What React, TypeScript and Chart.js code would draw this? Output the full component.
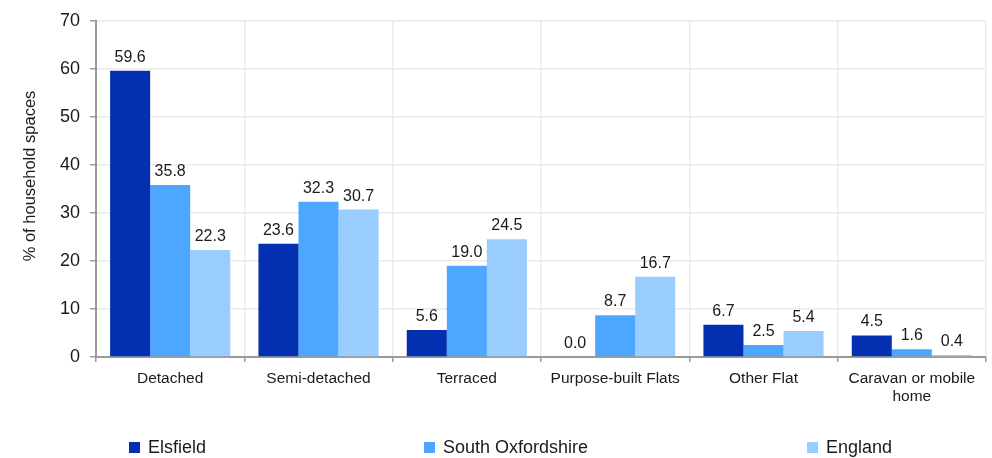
import React, { useEffect, useRef } from "react";
import { Chart, registerables } from "chart.js";

Chart.register(...registerables);

const categories: (string | string[])[] = [
  "Detached",
  "Semi-detached",
  "Terraced",
  "Purpose-built Flats",
  "Other Flat",
  ["Caravan or mobile", "home"],
];
const elsfield = [59.6, 23.6, 5.6, 0.0, 6.7, 4.5];
const southOxfordshire = [35.8, 32.3, 19.0, 8.7, 2.5, 1.6];
const england = [22.3, 30.7, 24.5, 16.7, 5.4, 0.4];
const yTicks = [0, 10, 20, 30, 40, 50, 60, 70];
const yTitle = "% of household spaces";

const FONT = "'Liberation Sans', Arial, Helvetica, sans-serif";
const TEXT = "#1a1a1a";

const valueLabels = {
  id: "valueLabels",
  afterDatasetsDraw(chart: any) {
    const ctx = chart.ctx;
    ctx.save();
    ctx.font = `16px ${FONT}`;
    ctx.fillStyle = TEXT;
    ctx.textAlign = "center";
    ctx.textBaseline = "alphabetic";
    chart.data.datasets.forEach((ds: any, i: number) => {
      const meta = chart.getDatasetMeta(i);
      meta.data.forEach((el: any, j: number) => {
        const v = ds.data[j];
        ctx.fillText(Number(v).toFixed(1), el.x, el.y - 9);
      });
    });
    ctx.restore();
  },
};

const yTitlePlugin = {
  id: "yTitlePlugin",
  afterDraw(chart: any) {
    const ctx = chart.ctx;
    ctx.save();
    ctx.font = `16.5px ${FONT}`;
    ctx.fillStyle = TEXT;
    ctx.textAlign = "center";
    ctx.textBaseline = "middle";
    ctx.translate(30, 176);
    ctx.rotate(-Math.PI / 2);
    ctx.fillText(yTitle, 0, 0);
    ctx.restore();
  },
};

const legendXs = [129, 424, 807];
const customLegend = {
  id: "customLegend",
  afterDraw(chart: any) {
    const ctx = chart.ctx;
    ctx.save();
    ctx.font = `18px ${FONT}`;
    ctx.textBaseline = "middle";
    ctx.textAlign = "left";
    const cy = 447.5;
    chart.data.datasets.forEach((ds: any, i: number) => {
      const x = legendXs[i];
      ctx.fillStyle = ds.backgroundColor;
      ctx.fillRect(x, cy - 5.5, 11, 11);
      ctx.fillStyle = TEXT;
      ctx.fillText(ds.label, x + 19, cy + 0.5);
    });
    ctx.restore();
  },
};

export default function App() {
  const ref = useRef<HTMLCanvasElement | null>(null);

  useEffect(() => {
    if (!ref.current) return;
    const chart = new Chart(ref.current, {
      type: "bar",
      data: {
        labels: categories,
        datasets: [
          { label: "Elsfield", data: elsfield, backgroundColor: "#0330B0" },
          { label: "South Oxfordshire", data: southOxfordshire, backgroundColor: "#4DA6FF" },
          { label: "England", data: england, backgroundColor: "#99CCFF" },
        ],
      },
      options: {
        animation: false,
        responsive: true,
        maintainAspectRatio: false,
        layout: { padding: { top: 17, right: 6, left: 0, bottom: 0 } },
        datasets: { bar: { categoryPercentage: 0.81, barPercentage: 1 } },
        plugins: {
          legend: { display: false },
          tooltip: { enabled: false },
        },
        scales: {
          x: {
            grid: {
              color: "#ebebeb",
              lineWidth: 1.5,
              tickColor: "#9a9a9a",
              tickLength: 5,
              offset: true,
            },
            border: { color: "#9a9a9a", width: 2 },
            ticks: {
              color: TEXT,
              font: { family: FONT, size: 15.5, lineHeight: 1.2 },
              padding: 7,
              maxRotation: 0,
              autoSkip: false,
            },
            afterFit(scale: any) {
              scale.height = 101;
            },
          },
          y: {
            min: 0,
            max: 70,
            afterBuildTicks(scale: any) {
              scale.ticks = yTicks.map((v) => ({ value: v }));
            },
            grid: {
              color: "#ebebeb",
              lineWidth: 1.5,
              tickColor: "#9a9a9a",
              tickLength: 6,
            },
            border: { color: "#9a9a9a", width: 2 },
            ticks: {
              color: TEXT,
              font: { family: FONT, size: 18 },
              padding: 10,
            },
            title: { display: false },
            afterFit(scale: any) {
              scale.width = 96;
            },
          },
        },
      },
      plugins: [valueLabels, yTitlePlugin, customLegend],
    });
    return () => chart.destroy();
  }, []);

  return (
    <div style={{ position: "fixed", left: 0, top: 0, width: 992, height: 458, background: "#fff" }}>
      <canvas ref={ref} />
    </div>
  );
}
